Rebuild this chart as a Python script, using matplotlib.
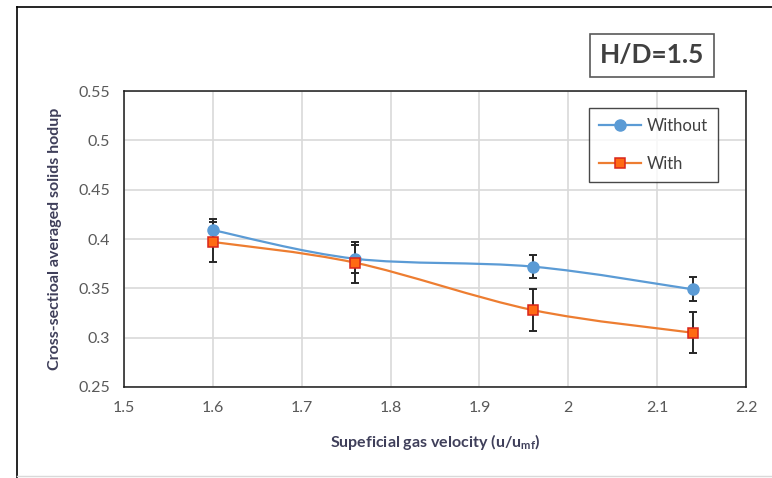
import matplotlib
matplotlib.use("Agg")
import matplotlib.pyplot as plt
import numpy as np
from matplotlib.path import Path
from matplotlib.patches import PathPatch
from matplotlib.lines import Line2D

# Data
velocity = [1.60, 1.76, 1.96, 2.14]
holdup_without = [0.409, 0.380, 0.372, 0.349]
holdup_with = [0.397, 0.376, 0.328, 0.305]
err_without = [0.011, 0.014, 0.012, 0.012]
err_with = [0.020, 0.021, 0.021, 0.021]
xticks = [1.5, 1.6, 1.7, 1.8, 1.9, 2.0, 2.1, 2.2]
xtick_labels = ["1.5", "1.6", "1.7", "1.8", "1.9", "2", "2.1", "2.2"]
yticks = [0.25, 0.30, 0.35, 0.40, 0.45, 0.50, 0.55]
ytick_labels = ["0.25", "0.3", "0.35", "0.4", "0.45", "0.5", "0.55"]

BLUE = "#5B9BD5"
ORANGE = "#ED7D31"
SQ_FACE = "#FF6A13"
SQ_EDGE = "#D9261C"
TEXT = "#595959"
LABEL = "#3F3F5A"

plt.rcParams["font.family"] = ["Lato", "DejaVu Sans"]

fig = plt.figure(figsize=(7.72, 4.78), dpi=100)
ax = fig.add_axes([124 / 772, 1 - 387 / 478, (746 - 124) / 772, (387 - 91) / 478])


def smooth_path(xs, ys):
    """Cubic Bezier path through the points (Catmull-Rom style smoothing)."""
    pts = np.column_stack([xs, ys]).astype(float)
    n = len(pts)
    verts = [pts[0]]
    codes = [Path.MOVETO]
    for i in range(n - 1):
        p0 = pts[i - 1] if i > 0 else pts[i]
        p1 = pts[i]
        p2 = pts[i + 1]
        p3 = pts[i + 2] if i + 2 < n else pts[i + 1]
        c1 = p1 + (p2 - p0) / 6.0
        c2 = p2 - (p3 - p1) / 6.0
        verts += [c1, c2, p2]
        codes += [Path.CURVE4] * 3
    return Path(verts, codes)


for ys, col in [(holdup_without, BLUE), (holdup_with, ORANGE)]:
    ax.add_patch(PathPatch(smooth_path(velocity, ys), facecolor="none",
                           edgecolor=col, lw=1.6, zorder=3, capstyle="round"))

# Error bars
for ys, err in [(holdup_without, err_without), (holdup_with, err_with)]:
    ax.errorbar(velocity, ys, yerr=err, fmt="none", ecolor="#262626",
                elinewidth=1.4, capsize=3.2, capthick=1.4, zorder=4)

# Markers
ax.plot(velocity, holdup_without, ls="none", marker="o", ms=8,
        mfc=BLUE, mec=BLUE, zorder=5)
ax.plot(velocity, holdup_with, ls="none", marker="s", ms=7,
        mfc=SQ_FACE, mec=SQ_EDGE, mew=1.1, zorder=5)

ax.set_xlim(1.5, 2.2)
ax.set_ylim(0.25, 0.55)
ax.set_xticks(xticks)
ax.set_xticklabels(xtick_labels)
ax.set_yticks(yticks)
ax.set_yticklabels(ytick_labels)
ax.tick_params(length=0, labelsize=11.5, labelcolor=TEXT, pad=10)
ax.grid(True, color="#D9D9D9", lw=1.2)
ax.set_axisbelow(True)
for s in ax.spines.values():
    s.set_color("#1A1A1A")
    s.set_linewidth(1.1)

ax.set_xlabel("Supeficial gas velocity (u/u$_{\\mathregular{mf}}$)", fontsize=11.5,
              fontweight="bold", color=LABEL, labelpad=12)
ax.set_ylabel("Cross-sectioal averaged solids hodup", fontsize=11.5,
              fontweight="bold", color=LABEL, labelpad=12)

# Legend
handles = [
    Line2D([], [], color=BLUE, lw=1.6, marker="o", ms=8, mfc=BLUE, mec=BLUE),
    Line2D([], [], color=ORANGE, lw=1.6, marker="s", ms=7, mfc=SQ_FACE,
           mec=SQ_EDGE, mew=1.1),
]
leg = ax.legend(handles, ["Without", "With"], loc="upper left",
                bbox_to_anchor=((589 - 124) / 622, 1 - (108 - 91) / 296),
                frameon=True, fancybox=False, fontsize=12, labelspacing=1.3,
                handlelength=2.5, handletextpad=0.35, borderpad=0.6,
                borderaxespad=0)
leg.get_frame().set_edgecolor("#1A1A1A")
leg.get_frame().set_linewidth(1.0)
for t in leg.get_texts():
    t.set_color("#404040")

# Annotation box
fig.text(652 / 772, 1 - 55 / 478, "H/D=1.5", fontsize=19, fontweight="bold",
         color="#404040", ha="center", va="center",
         bbox=dict(boxstyle="square,pad=0.36", facecolor="white",
                   edgecolor="#595959", lw=1.2))

# Outer frame of the chart area
fig.add_artist(Line2D([16.5 / 772, 16.5 / 772], [0, 1 - 6.5 / 478],
                      transform=fig.transFigure, color="black", lw=1.2))
fig.add_artist(Line2D([16.5 / 772, 1], [1 - 6.5 / 478, 1 - 6.5 / 478],
                      transform=fig.transFigure, color="black", lw=1.2))
fig.add_artist(Line2D([16.5 / 772, 1], [2 / 478, 2 / 478],
                      transform=fig.transFigure, color="#D9D9D9", lw=1.0))

fig.savefig("out.png", dpi=100)
